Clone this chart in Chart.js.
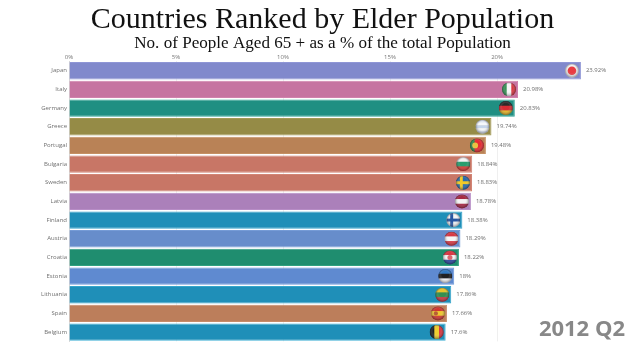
<!DOCTYPE html>
<html>
<head>
<meta charset="utf-8">
<title>Countries Ranked by Elder Population</title>
<script src="https://cdn.jsdelivr.net/npm/chart.js@4"></script>
<style>
  html, body { margin: 0; padding: 0; background: #fff; }
  canvas { display: block; }
</style>
</head>
<body>
<canvas id="eldersChart" width="640" height="360"></canvas>
<script>
const countries = ['Japan', 'Italy', 'Germany', 'Greece', 'Portugal', 'Bulgaria', 'Sweden', 'Latvia',
  'Finland', 'Austria', 'Croatia', 'Estonia', 'Lithuania', 'Spain', 'Belgium'];
const elderShare = [23.92, 20.98, 20.83, 19.74, 19.48, 18.84, 18.83, 18.78,
  18.38, 18.29, 18.22, 18, 17.86, 17.66, 17.6];
const barColors = ['#8189cc', '#c674a1', '#1f8f82', '#958b46', '#b98256', '#c87666', '#c87666', '#ab80ba',
  '#1f8fb8', '#678dcb', '#1f8d6f', '#5f8ad0', '#1f8fb8', '#bc7e5b', '#1f8fb8'];
const borderColors = ['#8f96d6', '#d082ad', '#2fa394', '#a39a55', '#c59063', '#d28474', '#d28474', '#b78dc6',
  '#35a5cc', '#759bd6', '#2fa181', '#6e98da', '#35a5cc', '#c88c69', '#3fb0d4'];
const tickValues = [0, 5, 10, 15, 20];
const periodLabel = '2012 Q2';

// Flag stripes for each country, 'h' = stacked top to bottom, 'v' = left to right
const flagStripes = [
  ['h', '#f4f4f4'],
  ['v', '#2f8f4e', '#f5f5f5', '#d9303a'],
  ['h', '#222222', '#d5242c', '#e8b620'],
  ['h', '#dfe7f4', '#f6f8fb', '#c3d3ea', '#f6f8fb', '#dfe7f4'],
  ['v', '#2a8a45', '#e6222a', '#e6222a'],
  ['h', '#f4f4f4', '#1f9a68', '#d8352c'],
  ['h', '#1f66a8', '#1f66a8', '#1f66a8'],
  ['h', '#a3203c', '#f4f4f4', '#a3203c'],
  ['h', '#f4f4f4', '#f4f4f4', '#f4f4f4'],
  ['h', '#d8303c', '#f6f6f6', '#d8303c'],
  ['h', '#d8303c', '#f4f4f4', '#24409a'],
  ['h', '#2a75c0', '#181818', '#f4f4f4'],
  ['h', '#e6c224', '#2c8a4a', '#c8303a'],
  ['h', '#cf3028', '#eec52a', '#cf3028'],
  ['v', '#181818', '#eecb28', '#d8303a']
];
// Small details painted over the stripes, by country name
const flagDetails = {
  Japan: { disc: '#e8343a', discSize: 0.62 },
  Portugal: { disc: '#e8c03a', discSize: 0.42, discX: -0.25 },
  Sweden: { cross: '#f2c81e' },
  Finland: { cross: '#1f4f9e' },
  Croatia: { disc: '#d8606a', discSize: 0.36 },
  Spain: { disc: '#b5572c', discSize: 0.3, discX: -0.3 }
};

function drawFlag(ctx, name, stripes, cx, cy, r) {
  ctx.save();
  ctx.beginPath();
  ctx.arc(cx, cy, r, 0, Math.PI * 2);
  ctx.clip();

  const dir = stripes[0];
  const bands = stripes.slice(1);
  const size = (r * 2) / bands.length;
  bands.forEach((color, i) => {
    ctx.fillStyle = color;
    if (dir === 'h') {
      ctx.fillRect(cx - r, cy - r + i * size, r * 2, size + 0.5);
    } else {
      ctx.fillRect(cx - r + i * size, cy - r, size + 0.5, r * 2);
    }
  });

  const extra = flagDetails[name];
  if (extra && extra.disc) {
    ctx.fillStyle = extra.disc;
    ctx.beginPath();
    ctx.arc(cx + (extra.discX || 0) * r, cy, r * (extra.discSize || 0.62), 0, Math.PI * 2);
    ctx.fill();
  }
  if (extra && extra.cross) {
    ctx.fillStyle = extra.cross;
    ctx.fillRect(cx - r * 0.45, cy - r, r * 0.42, r * 2);
    ctx.fillRect(cx - r, cy - r * 0.21, r * 2, r * 0.42);
  }

  // ball shading
  const shade = ctx.createRadialGradient(cx, cy - r * 0.2, r * 0.5, cx, cy, r);
  shade.addColorStop(0, 'rgba(255,255,255,0.04)');
  shade.addColorStop(1, 'rgba(20,20,30,0.45)');
  ctx.fillStyle = shade;
  ctx.fillRect(cx - r, cy - r, r * 2, r * 2);
  ctx.restore();
}

// Value labels, flags and the period stamp
const barExtras = {
  id: 'barExtras',
  afterDatasetsDraw(chart) {
    const { ctx, scales } = chart;
    ctx.save();
    countries.forEach((name, i) => {
      const end = scales.x.getPixelForValue(elderShare[i]);
      const mid = scales.y.getPixelForValue(i);
      drawFlag(ctx, name, flagStripes[i], end - 9, mid, 7);
      ctx.fillStyle = '#6f6f6f';
      ctx.font = '6px "Open Sans"';
      ctx.textAlign = 'left';
      ctx.textBaseline = 'middle';
      ctx.fillText(elderShare[i] + '%', end + 5, mid);
    });
    ctx.fillStyle = '#888888';
    ctx.font = 'bold 22px "Open Sans"';
    ctx.textAlign = 'right';
    ctx.textBaseline = 'middle';
    ctx.fillText(periodLabel, 625, 330);
    ctx.restore();
  }
};

new Chart(document.getElementById('eldersChart').getContext('2d'), {
  type: 'bar',
  data: {
    labels: countries,
    datasets: [{
      data: elderShare,
      backgroundColor: barColors,
      borderColor: borderColors,
      borderWidth: 1,
      categoryPercentage: 0.93,
      barPercentage: 1
    }]
  },
  options: {
    indexAxis: 'y',
    responsive: false,
    animation: false,
    layout: { padding: { left: 5, right: 0, top: 0, bottom: 18.6 } },
    plugins: {
      legend: { display: false },
      tooltip: { enabled: false },
      title: {
        display: true,
        text: 'Countries Ranked by Elder Population',
        color: '#111',
        font: { family: '"Liberation Serif"', size: 30, weight: 'normal', lineHeight: 1 },
        padding: { top: 5, bottom: 0 }
      },
      subtitle: {
        display: true,
        text: 'No. of People Aged 65 + as a % of the total Population',
        color: '#111',
        font: { family: '"Liberation Serif"', size: 17.1, weight: 'normal', lineHeight: 1 },
        padding: { top: 0, bottom: 0 }
      }
    },
    scales: {
      x: {
        position: 'top',
        min: 0,
        max: 26.68,
        afterBuildTicks(scale) { scale.ticks = tickValues.map(v => ({ value: v })); },
        afterFit(scale) { scale.height = 9.3; },
        ticks: {
          callback: v => v + '%',
          color: '#777',
          font: { family: '"Open Sans"', size: 6 },
          maxRotation: 0,
          padding: 1
        },
        grid: { color: '#efefef', drawTicks: false },
        border: { display: false }
      },
      y: {
        afterFit(scale) { scale.width = 64; },
        ticks: {
          color: '#6f6f6f',
          font: { family: '"Open Sans"', size: 6 },
          padding: 2,
          autoSkip: false
        },
        grid: { display: false, drawTicks: false },
        border: { color: '#d8d8d8' }
      }
    }
  },
  plugins: [barExtras]
});
</script>
</body>
</html>
